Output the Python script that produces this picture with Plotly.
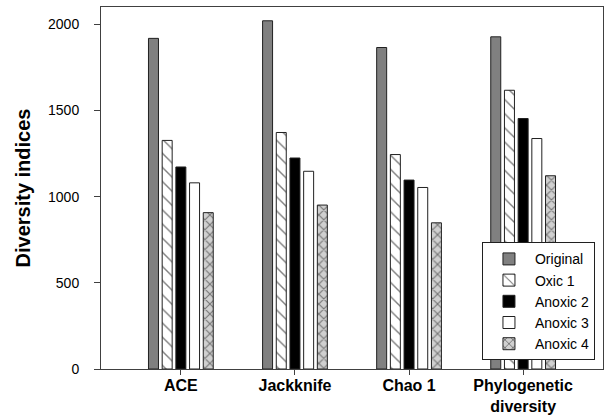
import plotly.graph_objects as go

categories = ["ACE", "Jackknife", "Chao 1", "Phylogenetic<br>diversity"]
series_names = ["Original", "Oxic 1", "Anoxic 2", "Anoxic 3", "Anoxic 4"]
original = [1918, 2020, 1865, 1927]
oxic1 = [1326, 1372, 1244, 1617]
anoxic2 = [1172, 1224, 1096, 1453]
anoxic3 = [1080, 1147, 1053, 1337]
anoxic4 = [907, 951, 848, 1121]
y_ticks = [0, 500, 1000, 1500, 2000]

values = [original, oxic1, anoxic2, anoxic3, anoxic4]
styles = [
    dict(color="#808080"),
    dict(color="white", pattern=dict(shape="\\", fgcolor="black", bgcolor="white", size=10, solidity=0.14)),
    dict(color="black"),
    dict(color="white"),
    dict(color="#d0d0d0", pattern=dict(shape="x", fgcolor="#1a1a1a", bgcolor="#d0d0d0", size=7, solidity=0.3)),
]

fig = go.Figure()
for name, vals, st in zip(series_names, values, styles):
    marker = dict(line=dict(color="#202020", width=1), **st)
    fig.add_trace(go.Bar(name=name, x=list(range(len(categories))), y=vals, marker=marker))

font_family = "Liberation Sans, Arial, sans-serif"
fig.update_layout(
    width=604, height=416,
    margin=dict(l=101, r=1, t=7, b=47),
    paper_bgcolor="white", plot_bgcolor="white",
    barmode="group", bargap=0.40, bargroupgap=0.27,
    font=dict(family=font_family, color="black"),
    showlegend=True,
    legend=dict(
        x=0.984, y=0.024, xanchor="right", yanchor="bottom",
        bordercolor="#202020", borderwidth=1, bgcolor="white",
        font=dict(size=14, family=font_family, color="black"),
        tracegroupgap=0, itemwidth=42,
    ),
)
fig.update_xaxes(
    range=[-0.7, 3.7], automargin=False,
    tickmode="array", tickvals=list(range(len(categories))), ticktext=categories,
    tickfont=dict(size=16, family=font_family, weight="bold"),
    showline=True, linecolor="#404040", linewidth=1, mirror=True,
    ticks="outside", ticklen=5, tickcolor="#404040",
    ticklabelstandoff=-3,
    showgrid=False, zeroline=False,
)
fig.update_yaxes(
    range=[0, 2100], automargin=False,
    tickmode="array", tickvals=y_ticks,
    tickfont=dict(size=14, family=font_family),
    showline=True, linecolor="#404040", linewidth=1, mirror=True,
    ticks="outside", ticklen=6, tickcolor="#404040",
    ticklabelstandoff=12,
    showgrid=False, zeroline=False,
    title=dict(text="<b>Diversity indices</b>", font=dict(size=20, family=font_family), standoff=12),
)

fig.write_html("out.html")
